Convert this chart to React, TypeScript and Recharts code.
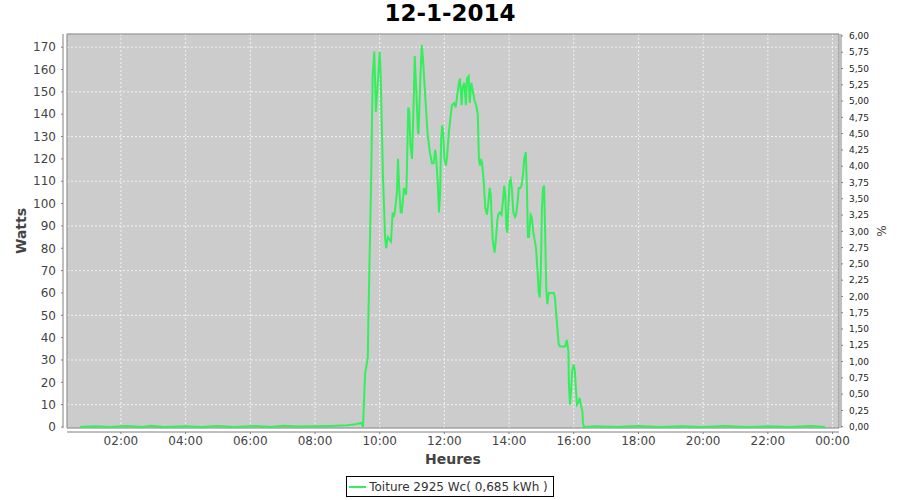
import React from 'react'
import {
  LineChart,
  Line,
  XAxis,
  YAxis,
  CartesianGrid,
  ReferenceArea,
  Legend,
} from 'recharts'

// minutes since midnight, sampled readings of the roof installation
const minutes = [
  44, 70, 100, 130, 160, 175, 200, 240, 270, 300, 330, 370, 400, 420, 450, 480, 510, 540, 555, 566, 569,
  573, 578, 579, 584, 587, 590, 593, 597, 600, 602, 606, 610, 612, 615, 621, 624, 626, 628, 632,
  634, 636, 639, 641, 645, 649, 650, 653, 655, 657, 660, 663, 665, 668, 671, 672, 675, 678, 680,
  683, 687, 689, 693, 697, 700, 703, 705, 708, 710, 712, 714, 716, 718, 720, 723, 725, 728, 732,
  734, 738, 741, 744, 747, 749, 752, 754, 757, 760, 762, 765, 767, 770, 773, 776, 779, 782, 784,
  786, 788, 790, 793, 796, 799, 801, 804, 806, 808, 810, 813, 816, 818, 820, 823, 826, 829, 831,
  833, 835, 837, 838, 841, 843, 845, 848, 851, 853, 856, 858, 861, 863, 866, 868, 871, 873, 875,
  877, 880, 882, 885, 888, 890, 893, 895, 897, 899, 901, 903, 905, 907, 909, 911, 913, 914, 918,
  920, 923, 925, 928, 930, 932, 935, 938, 942, 944, 947, 950, 951, 953, 955, 957, 960, 962, 964,
  966, 969, 971, 973, 976, 977, 979,
  1000, 1040, 1080, 1120, 1160, 1200, 1240, 1280, 1320, 1360, 1400, 1426,
]

const watts = [
  0, 0.3, 0, 0.4, 0, 0.5, 0, 0.3, 0, 0.5, 0, 0.4, 0, 0.6, 0.2, 0.3, 0.5, 0.8, 1.2, 1.8, 0,
  24, 31, 48, 108, 157, 168, 141, 156, 168, 156, 113, 85, 80, 85, 83, 96, 94, 96, 105,
  120, 108, 96, 96, 107, 104, 110, 143, 141, 126, 120, 145, 166, 150, 132, 131, 153, 171, 166,
  154, 138, 131, 123, 118, 118, 124, 120, 108, 96, 104, 129, 135, 131, 120, 117, 121, 131, 140,
  144, 145, 143, 149, 154, 156, 144, 152, 154, 144, 156, 157, 145, 154, 150, 146, 144, 140, 120,
  117, 120, 118, 110, 98, 95, 99, 107, 104, 92, 83, 78, 85, 92, 95, 96, 95, 102, 108,
  104, 89, 87, 95, 110, 111, 107, 96, 94, 95, 101, 107, 107, 108, 113, 120, 123, 108, 85,
  85, 95, 94, 87, 83, 80, 69, 60, 58, 71, 98, 107, 108, 86, 62, 55, 59, 60, 60,
  60, 60, 58, 49, 43, 37, 36, 36, 36, 36, 39, 34, 19, 10, 16, 25, 28, 25, 17,
  10, 11, 13, 10, 7, 2, 0,
  0.3, 0, 0.4, 0, 0.3, 0, 0.5, 0, 0.3, 0, 0.4, 0,
]

const hourTicks = [120, 240, 360, 480, 600, 720, 840, 960, 1080, 1200, 1320, 1440]
const wattTicks = [0, 10, 20, 30, 40, 50, 60, 70, 80, 90, 100, 110, 120, 130, 140, 150, 160, 170]
const pctTicks = [
  0, 0.25, 0.5, 0.75, 1, 1.25, 1.5, 1.75, 2, 2.25, 2.5, 2.75, 3, 3.25, 3.5, 3.75, 4, 4.25, 4.5,
  4.75, 5, 5.25, 5.5, 5.75, 6,
]

const seriesName = 'Toiture 2925 Wc( 0,685 kWh )'
const green = '#34ef5c'
const font = "'DejaVu Sans', sans-serif"

const data = minutes.map((m, i) => ({ m, w: watts[i] }))

const fmtHour = (m: number) => {
  const h = Math.floor(m / 60) % 24
  return `${h < 10 ? '0' : ''}${h}:00`
}
const fmtPct = (v: number) => v.toFixed(2).replace('.', ',')

function LegendBox() {
  return (
    <div style={{ display: 'flex', justifyContent: 'center' }}>
      <div
        style={{
          border: '1px solid #000',
          height: 19,
          padding: '0 5px 0 2px',
          display: 'flex',
          alignItems: 'center',
          fontSize: 12,
          color: '#333',
          fontFamily: font,
          background: '#fff',
        }}
      >
        <span style={{ display: 'inline-block', width: 17, height: 2, background: green, marginRight: 3 }} />
        {seriesName}
      </div>
    </div>
  )
}

export default function App() {
  return (
    <div style={{ position: 'absolute', left: 0, top: 0, width: 900, height: 500, background: '#fff', fontFamily: font }}>
      <div
        style={{
          position: 'absolute',
          top: 0,
          left: 0,
          width: 900,
          textAlign: 'center',
          fontSize: 23,
          fontWeight: 'bold',
          lineHeight: '26px',
          color: '#000',
        }}
      >
        12-1-2014
      </div>
      <LineChart
        width={900}
        height={500}
        data={data}
        margin={{ top: 34, right: 16, left: 17, bottom: 32 }}
        style={{ fontFamily: font }}
      >
        <CartesianGrid
          yAxisId="left"
          fill="#cccccc"
          stroke="#f2f2f2"
          strokeDasharray="2 2"
        />
        <XAxis
          dataKey="m"
          type="number"
          domain={[20, 1452]}
          ticks={hourTicks}
          tickFormatter={fmtHour}
          allowDataOverflow
          height={40}
          tickSize={2}
          tickMargin={6}
          axisLine={{ stroke: '#808080', transform: 'translate(0 4)' }}
          tickLine={{ stroke: '#808080', transform: 'translate(0 4)' }}
          tick={{ fill: '#444', fontSize: 12 }}
          label={{ value: 'Heures', position: 'insideBottom', offset: 4, fill: '#444', fontSize: 14, fontWeight: 'bold' }}
        />
        <YAxis
          yAxisId="left"
          domain={[-0.45, 175.9]}
          ticks={wattTicks}
          allowDataOverflow
          width={50}
          tickSize={2}
          tickMargin={9}
          axisLine={{ stroke: '#808080', transform: 'translate(-4 0)' }}
          tickLine={{ stroke: '#808080', transform: 'translate(-4 0)' }}
          tick={{ fill: '#444', fontSize: 12 }}
          label={{
            value: 'Watts',
            angle: -90,
            position: 'insideLeft',
            offset: 4,
            fill: '#444',
            fontSize: 14,
            fontWeight: 'bold',
            style: { textAnchor: 'middle' },
          }}
        />
        <YAxis
          yAxisId="right"
          orientation="right"
          domain={[-0.02, 6.03]}
          ticks={pctTicks}
          tickFormatter={fmtPct}
          allowDataOverflow
          width={45}
          tickSize={2}
          tickMargin={8}
          axisLine={{ stroke: '#808080', transform: 'translate(2 0)' }}
          tickLine={{ stroke: '#808080', transform: 'translate(2 0)' }}
          tick={{ fill: '#222', fontSize: 9 }}
          label={{
            value: '%',
            angle: -90,
            position: 'insideRight',
            offset: 2,
            fill: '#444',
            fontSize: 12,
            style: { textAnchor: 'middle' },
          }}
        />
        <ReferenceArea
          yAxisId="left"
          x1={20}
          x2={1452}
          y1={-0.45}
          y2={175.9}
          fill="none"
          stroke="#808080"
          strokeWidth={1}
          ifOverflow="visible"
        />
        <Line
          yAxisId="left"
          type="linear"
          dataKey="w"
          name={seriesName}
          stroke={green}
          strokeWidth={2}
          dot={false}
          isAnimationActive={false}
        />
        <Legend
          layout="horizontal"
          verticalAlign="middle"
          align="center"
          wrapperStyle={{ top: 476, left: 0, width: 900 }}
          content={() => <LegendBox />}
        />
      </LineChart>
    </div>
  )
}
